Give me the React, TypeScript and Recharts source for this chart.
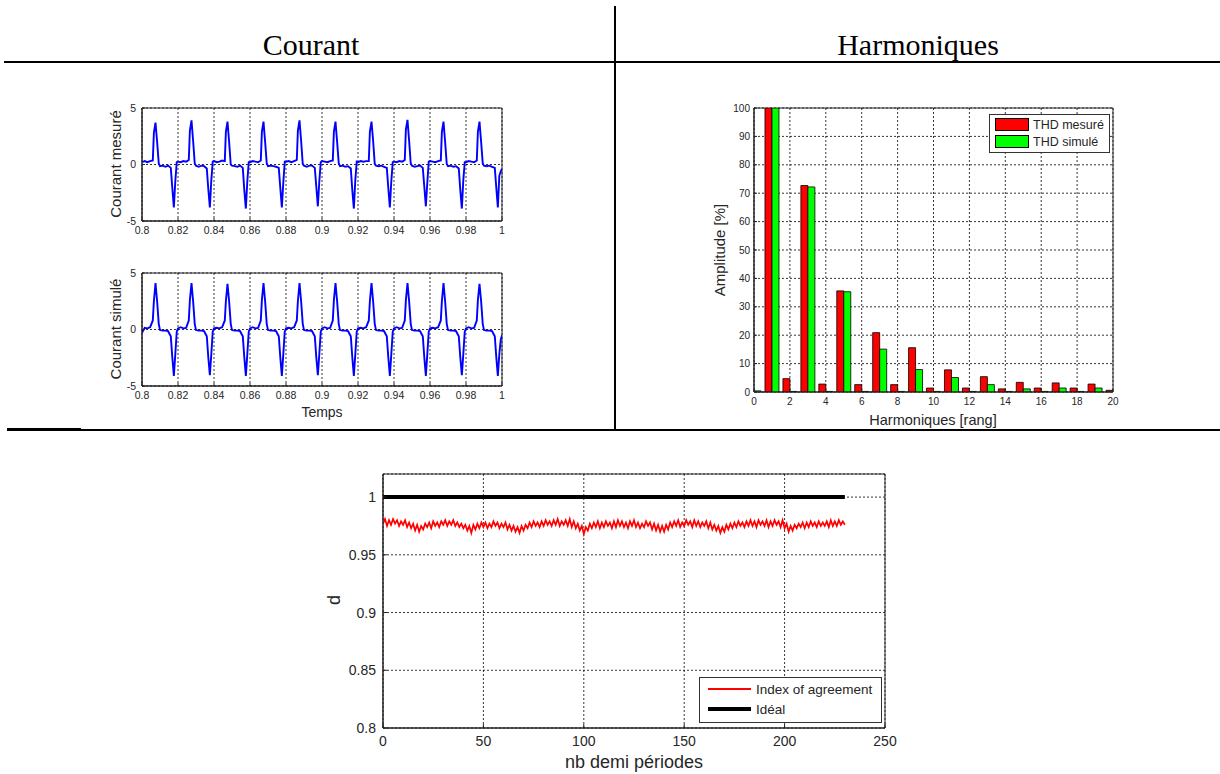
import React from 'react';
import { LineChart, Line, BarChart, Bar, XAxis, YAxis, CartesianGrid, ReferenceArea, Legend } from 'recharts';

// ---------- Courant (top-left) ----------
const timeTicks = [0.8, 0.82, 0.84, 0.86, 0.88, 0.9, 0.92, 0.94, 0.96, 0.98, 1];
const currentTicks = [-5, 0, 5];
const timeS = [
  0.8, 0.8015, 0.803, 0.8045, 0.806, 0.8066, 0.8075, 0.8084, 0.8093, 0.81, 0.8115, 0.813, 0.8145, 0.816, 0.8168, 0.8177, 0.8185, 0.8193,
  0.82, 0.8215, 0.823, 0.8245, 0.826, 0.8266, 0.8275, 0.8284, 0.8293, 0.83, 0.8315, 0.833, 0.8345, 0.836, 0.8368, 0.8377, 0.8385, 0.8393,
  0.84, 0.8415, 0.843, 0.8445, 0.846, 0.8466, 0.8475, 0.8484, 0.8493, 0.85, 0.8515, 0.853, 0.8545, 0.856, 0.8568, 0.8577, 0.8585, 0.8593,
  0.86, 0.8615, 0.863, 0.8645, 0.866, 0.8666, 0.8675, 0.8684, 0.8693, 0.87, 0.8715, 0.873, 0.8745, 0.876, 0.8768, 0.8777, 0.8785, 0.8793,
  0.88, 0.8815, 0.883, 0.8845, 0.886, 0.8866, 0.8875, 0.8884, 0.8893, 0.89, 0.8915, 0.893, 0.8945, 0.896, 0.8968, 0.8977, 0.8985, 0.8993,
  0.9, 0.9015, 0.903, 0.9045, 0.906, 0.9066, 0.9075, 0.9084, 0.9093, 0.91, 0.9115, 0.913, 0.9145, 0.916, 0.9168, 0.9177, 0.9185, 0.9193,
  0.92, 0.9215, 0.923, 0.9245, 0.926, 0.9266, 0.9275, 0.9284, 0.9293, 0.93, 0.9315, 0.933, 0.9345, 0.936, 0.9368, 0.9377, 0.9385, 0.9393,
  0.94, 0.9415, 0.943, 0.9445, 0.946, 0.9466, 0.9475, 0.9484, 0.9493, 0.95, 0.9515, 0.953, 0.9545, 0.956, 0.9568, 0.9577, 0.9585, 0.9593,
  0.96, 0.9615, 0.963, 0.9645, 0.966, 0.9666, 0.9675, 0.9684, 0.9693, 0.97, 0.9715, 0.973, 0.9745, 0.976, 0.9768, 0.9777, 0.9785, 0.9793,
  0.98, 0.9815, 0.983, 0.9845, 0.986, 0.9866, 0.9875, 0.9884, 0.9893, 0.99, 0.9915, 0.993, 0.9945, 0.996, 0.9968, 0.9977, 0.9985, 0.9993,
  1,
];
const courantMesure = [
  0.2, 0.3, 0.2, 0.3, 0.35, 2.8, 3.7, 2.0, 0.1, -0.15, -0.1, -0.2, -0.1, -0.3, -2.0, -3.8, -1.5, 0.2,
  0.25, 0.2, 0.3, 0.25, 0.4, 3.0, 3.9, 2.1, 0.1, -0.1, -0.2, -0.1, -0.15, -0.35, -2.1, -3.8, -1.4, 0.25,
  0.3, 0.2, 0.25, 0.35, 0.3, 2.9, 3.8, 2.0, 0.0, -0.1, -0.15, -0.2, -0.1, -0.3, -2.2, -3.9, -1.5, 0.2,
  0.2, 0.3, 0.25, 0.2, 0.35, 2.9, 3.8, 2.0, 0.1, -0.15, -0.1, -0.15, -0.2, -0.3, -2.0, -3.8, -1.6, 0.25,
  0.25, 0.3, 0.2, 0.3, 0.4, 3.0, 3.9, 2.1, 0.05, -0.1, -0.2, -0.1, -0.1, -0.3, -1.9, -3.7, -1.5, 0.2,
  0.3, 0.25, 0.2, 0.3, 0.35, 2.9, 3.8, 2.0, 0.1, -0.15, -0.1, -0.2, -0.15, -0.35, -2.2, -3.9, -1.4, 0.25,
  0.2, 0.3, 0.25, 0.3, 0.3, 2.9, 3.8, 2.1, 0.05, -0.1, -0.15, -0.1, -0.2, -0.3, -2.0, -3.8, -1.5, 0.2,
  0.25, 0.2, 0.3, 0.25, 0.4, 3.1, 3.95, 2.1, 0.1, -0.1, -0.2, -0.15, -0.1, -0.3, -1.9, -3.7, -1.6, 0.25,
  0.3, 0.25, 0.2, 0.3, 0.35, 2.9, 3.8, 2.0, 0.05, -0.15, -0.1, -0.2, -0.15, -0.35, -2.2, -3.9, -1.4, 0.2,
  0.2, 0.3, 0.25, 0.2, 0.35, 2.9, 3.8, 2.0, 0.1, -0.1, -0.15, -0.1, -0.2, -0.3, -2.0, -3.8, -1.0, -0.6,
  -0.4,
];
const courantSimule = [
  -0.3, 0.15, 0.1, 0.2, 0.8, 2.5, 4.1, 2.5, 0.5, -0.05, -0.1, -0.1, -0.15, -0.6, -2.4, -4.1, -2.2, -0.2,
  0.1, 0.2, 0.1, 0.15, 0.8, 2.6, 4.1, 2.5, 0.5, -0.05, -0.1, -0.1, -0.15, -0.6, -2.4, -4.05, -2.2, -0.2,
  0.1, 0.15, 0.1, 0.2, 0.8, 2.5, 4.05, 2.5, 0.5, -0.05, -0.1, -0.1, -0.15, -0.6, -2.4, -4.1, -2.2, -0.2,
  0.1, 0.2, 0.1, 0.15, 0.8, 2.6, 4.1, 2.5, 0.5, -0.05, -0.1, -0.1, -0.15, -0.6, -2.4, -4.1, -2.2, -0.2,
  0.1, 0.15, 0.1, 0.2, 0.8, 2.5, 4.1, 2.5, 0.5, -0.05, -0.1, -0.1, -0.15, -0.6, -2.4, -4.05, -2.2, -0.2,
  0.1, 0.2, 0.1, 0.15, 0.8, 2.6, 4.1, 2.5, 0.5, -0.05, -0.1, -0.1, -0.15, -0.6, -2.4, -4.1, -2.2, -0.2,
  0.1, 0.15, 0.1, 0.2, 0.8, 2.5, 4.1, 2.5, 0.5, -0.05, -0.1, -0.1, -0.15, -0.6, -2.4, -4.1, -2.2, -0.2,
  0.1, 0.2, 0.1, 0.15, 0.8, 2.6, 4.1, 2.5, 0.5, -0.05, -0.1, -0.1, -0.15, -0.6, -2.4, -4.1, -2.2, -0.2,
  0.1, 0.15, 0.1, 0.2, 0.8, 2.5, 4.1, 2.5, 0.5, -0.05, -0.1, -0.1, -0.15, -0.6, -2.4, -4.05, -2.2, -0.2,
  0.1, 0.2, 0.1, 0.15, 0.8, 2.6, 4.05, 2.5, 0.5, -0.05, -0.1, -0.1, -0.15, -0.6, -2.4, -4.1, -2.2, -0.9,
  -0.5,
];

// ---------- Harmoniques (top-right) ----------
const rangs = [0, 1, 2, 3, 4, 5, 6, 7, 8, 9, 10, 11, 12, 13, 14, 15, 16, 17, 18, 19, 20];
const thdMesure = [0.6, 100, 4.7, 72.7, 2.8, 35.6, 2.6, 20.9, 2.6, 15.6, 1.4, 7.8, 1.4, 5.4, 1.1, 3.4, 1.4, 3.2, 1.4, 2.8, 0.6];
const thdSimule = [0.4, 100, 0.2, 72.2, 0.2, 35.3, 0.2, 15.1, 0.2, 7.9, 0.2, 5.1, 0.2, 2.6, 0.2, 1.1, 0.2, 1.4, 0.2, 1.4, 0.2];
const rangTicks = [0, 2, 4, 6, 8, 10, 12, 14, 16, 18, 20];
const ampTicks = [0, 10, 20, 30, 40, 50, 60, 70, 80, 90, 100];

// ---------- Index of agreement (bottom) ----------
const indexAgreement = [
  0.977, 0.981, 0.975, 0.980, 0.976, 0.981, 0.977, 0.980, 0.975, 0.979,
  0.976, 0.980, 0.974, 0.978, 0.973, 0.977, 0.971, 0.976, 0.970, 0.975,
  0.972, 0.977, 0.974, 0.978, 0.973, 0.979, 0.975, 0.978, 0.974, 0.979,
  0.976, 0.980, 0.975, 0.979, 0.976, 0.980, 0.975, 0.978, 0.974, 0.977,
  0.973, 0.976, 0.971, 0.975, 0.969, 0.976, 0.972, 0.977, 0.973, 0.978,
  0.974, 0.978, 0.973, 0.977, 0.974, 0.979, 0.975, 0.978, 0.973, 0.977,
  0.974, 0.978, 0.972, 0.976, 0.971, 0.975, 0.970, 0.974, 0.969, 0.975,
  0.971, 0.976, 0.973, 0.978, 0.974, 0.979, 0.975, 0.978, 0.974, 0.979,
  0.975, 0.980, 0.976, 0.979, 0.975, 0.980, 0.976, 0.981, 0.975, 0.979,
  0.976, 0.980, 0.975, 0.981, 0.974, 0.979, 0.973, 0.977, 0.971, 0.975,
  0.968, 0.974, 0.971, 0.977, 0.973, 0.978, 0.974, 0.979, 0.973, 0.978,
  0.974, 0.979, 0.975, 0.978, 0.973, 0.979, 0.974, 0.980, 0.975, 0.979,
  0.974, 0.978, 0.973, 0.979, 0.975, 0.980, 0.974, 0.978, 0.973, 0.977,
  0.974, 0.979, 0.975, 0.978, 0.972, 0.977, 0.971, 0.976, 0.970, 0.975,
  0.970, 0.976, 0.972, 0.978, 0.974, 0.979, 0.975, 0.980, 0.974, 0.978,
  0.975, 0.980, 0.976, 0.979, 0.974, 0.980, 0.975, 0.979, 0.974, 0.978,
  0.975, 0.979, 0.973, 0.978, 0.972, 0.976, 0.971, 0.975, 0.969, 0.974,
  0.970, 0.976, 0.972, 0.977, 0.973, 0.978, 0.974, 0.979, 0.975, 0.978,
  0.974, 0.979, 0.975, 0.980, 0.975, 0.979, 0.974, 0.980, 0.976, 0.979,
  0.975, 0.980, 0.974, 0.979, 0.975, 0.980, 0.976, 0.979, 0.974, 0.980,
  0.973, 0.977, 0.970, 0.975, 0.971, 0.976, 0.973, 0.977, 0.974, 0.978,
  0.973, 0.978, 0.974, 0.979, 0.975, 0.978, 0.974, 0.979, 0.975, 0.978,
  0.975, 0.979, 0.974, 0.980, 0.975, 0.979, 0.975, 0.980, 0.976, 0.979,
  0.976,
];
const idealN = [0, 230];
const idealD = [1, 1];
const demiTicks = [0, 50, 100, 150, 200, 250];
const dTicks = [0.8, 0.85, 0.9, 0.95, 1];

// ---------- helpers ----------
const SANS = '"Liberation Sans", Arial, Helvetica, sans-serif';
const SERIF = '"Liberation Serif", "Times New Roman", serif';
const INK = '#262626';
const tickStyle = (size: number) => ({ fontSize: size, fill: INK, fontFamily: SANS });

const title = (x: number, y: number, text: string, size: number, rotate = false) => () => (
  <text
    x={x}
    y={y}
    textAnchor="middle"
    dominantBaseline="central"
    transform={rotate ? `rotate(-90 ${x} ${y})` : undefined}
    fontFamily={SANS}
    fontSize={size}
    fill={INK}
  >
    {text}
  </text>
);

const mesureData = timeS.map((t, i) => ({ t, v: courantMesure[i] }));
const simuleData = timeS.map((t, i) => ({ t, v: courantSimule[i] }));
const harmData = rangs.map((r, i) => ({ r, m: thdMesure[i], s: thdSimule[i] }));
const agreeData = indexAgreement.map((d, n) => ({ n, d }));
const idealData = idealN.map((n, i) => ({ n, d: idealD[i] }));

function CourantChart({ data, top, height, bottom, ylabel, xlabel }: any) {
  return (
    <div style={{ position: 'absolute', left: 80, top, width: 440, height }}>
      <LineChart width={440} height={height} data={data} margin={{ top: 13, right: 18, bottom, left: 0 }}>
        <CartesianGrid stroke="#000" strokeDasharray="2 2" strokeWidth={0.8} />
        <XAxis
          dataKey="t"
          type="number"
          domain={[0.8, 1]}
          ticks={timeTicks}
          interval={0}
          allowDataOverflow
          height={20}
          tickSize={-3}
          tickMargin={9}
          axisLine={{ stroke: '#222' }}
          tickLine={{ stroke: '#222' }}
          tick={tickStyle(10.5)}
          label={xlabel ? title(242, 152, xlabel, 14) : undefined}
        />
        <YAxis
          type="number"
          domain={[-5, 5]}
          ticks={currentTicks}
          interval={0}
          allowDataOverflow
          width={62}
          tickSize={-3}
          tickMargin={9}
          axisLine={{ stroke: '#222' }}
          tickLine={{ stroke: '#222' }}
          tick={tickStyle(10.5)}
          label={title(35, 69, ylabel, 15, true)}
        />
        <ReferenceArea x1={0.8} x2={1} y1={-5} y2={5} fill="none" stroke="#222" strokeWidth={1} ifOverflow="visible" />
        <Line type="linear" dataKey="v" stroke="#0000ff" strokeWidth={1.9} dot={false} activeDot={false} isAnimationActive={false} />
      </LineChart>
    </div>
  );
}

function HarmLegend() {
  const row = (color: string, label: string) => (
    <div style={{ display: 'flex', alignItems: 'center', height: 17 }}>
      <div style={{ width: 32, height: 11, background: color, border: '1px solid #000', marginLeft: 5, marginRight: 4 }} />
      <span style={{ fontFamily: SANS, fontSize: 12.5, color: INK }}>{label}</span>
    </div>
  );
  return (
    <div style={{ width: 119, height: 36, border: '1px solid #333', background: '#fff', paddingTop: 1, boxSizing: 'content-box' }}>
      {row('#ff0000', 'THD mesuré')}
      {row('#00ff00', 'THD simulé')}
    </div>
  );
}

function AgreeLegend() {
  const row = (h: number, label: string, color: string) => (
    <div style={{ display: 'flex', alignItems: 'center', height: 20 }}>
      <div style={{ width: 43, height: h, background: color, marginLeft: 8, marginRight: 5 }} />
      <span style={{ fontFamily: SANS, fontSize: 13.5, color: INK }}>{label}</span>
    </div>
  );
  return (
    <div style={{ width: 181, height: 43, border: '1px solid #333', background: '#fff', paddingTop: 1, boxSizing: 'content-box' }}>
      {row(2, 'Index of agreement', '#ff0000')}
      {row(4, 'Idéal', '#000')}
    </div>
  );
}

const rule = (left: number, top: number, width: number, height: number) => (
  <div style={{ position: 'absolute', left, top, width, height, background: '#000' }} />
);

export default function App() {
  return (
    <div style={{ position: 'absolute', left: 0, top: 0, width: 1220, height: 774, background: '#fff', overflow: 'hidden' }}>
      <CourantChart data={mesureData} top={95} height={150} bottom={4} ylabel="Courant mesuré" />
      <CourantChart data={simuleData} top={260} height={165} bottom={19} ylabel="Courant simulé" xlabel="Temps" />

      <div style={{ position: 'absolute', left: 690, top: 95, width: 440, height: 340 }}>
        <BarChart width={440} height={340} data={harmData} margin={{ top: 13, right: 17, bottom: 23, left: 0 }} barGap={0} barSize={7}>
          <CartesianGrid stroke="#000" strokeDasharray="2 2" strokeWidth={0.8} />
          <XAxis
            dataKey="r"
            type="number"
            domain={[0, 20]}
            ticks={rangTicks}
            interval={0}
            allowDataOverflow
            height={20}
            tickSize={-3}
            tickMargin={9}
            axisLine={{ stroke: '#222' }}
            tickLine={{ stroke: '#222' }}
            tick={tickStyle(10)}
            label={title(243, 325, 'Harmoniques [rang]', 14.5)}
          />
          <YAxis
            type="number"
            domain={[0, 100]}
            ticks={ampTicks}
            interval={0}
            allowDataOverflow
            width={64}
            tickSize={-3}
            tickMargin={7}
            axisLine={{ stroke: '#222' }}
            tickLine={{ stroke: '#222' }}
            tick={tickStyle(10)}
            label={title(29, 155, 'Amplitude [%]', 15, true)}
          />
          <Bar dataKey="m" name="THD mesuré" fill="#ff0000" stroke="#000" strokeWidth={0.8} isAnimationActive={false} />
          <Bar dataKey="s" name="THD simulé" fill="#00ff00" stroke="#000" strokeWidth={0.8} isAnimationActive={false} />
          <ReferenceArea x1={0} x2={20} y1={0} y2={100} fill="none" stroke="#222" strokeWidth={1} ifOverflow="visible" />
          <Legend
            layout="vertical"
            align="center"
            verticalAlign="middle"
            wrapperStyle={{ left: 299, top: 19, width: 121, height: 38 }}
            content={() => <HarmLegend />}
          />
        </BarChart>
      </div>

      <div style={{ position: 'absolute', left: 320, top: 460, width: 580, height: 314 }}>
        <LineChart width={580} height={314} margin={{ top: 14, right: 15, bottom: 16, left: 0 }}>
          <CartesianGrid stroke="#000" strokeDasharray="2 2" strokeWidth={0.8} />
          <XAxis
            dataKey="n"
            type="number"
            domain={[0, 250]}
            ticks={demiTicks}
            interval={0}
            allowDataOverflow
            height={30}
            tickSize={-4}
            tickMargin={12}
            axisLine={{ stroke: '#222' }}
            tickLine={{ stroke: '#222' }}
            tick={tickStyle(14)}
            label={title(314, 302, 'nb demi périodes', 18)}
          />
          <YAxis
            type="number"
            domain={[0.8, 1.02]}
            ticks={dTicks}
            interval={0}
            allowDataOverflow
            width={63}
            tickSize={-4}
            tickMargin={11}
            axisLine={{ stroke: '#222' }}
            tickLine={{ stroke: '#222' }}
            tick={tickStyle(14)}
            label={title(14, 140, 'd', 18, true)}
          />
          <ReferenceArea x1={0} x2={250} y1={0.8} y2={1.02} fill="none" stroke="#222" strokeWidth={1} ifOverflow="visible" />
          <Line data={agreeData} type="linear" dataKey="d" name="Index of agreement" stroke="#ff0000" strokeWidth={1.7} dot={false} activeDot={false} isAnimationActive={false} />
          <Line data={idealData} type="linear" dataKey="d" name="Idéal" stroke="#000" strokeWidth={4} dot={false} activeDot={false} isAnimationActive={false} />
          <Legend
            layout="vertical"
            align="center"
            verticalAlign="middle"
            wrapperStyle={{ left: 379, top: 217, width: 183, height: 45 }}
            content={() => <AgreeLegend />}
          />
        </LineChart>
      </div>

      {rule(4, 61, 1216, 2)}
      {rule(614, 6, 2, 424)}
      {rule(7, 428, 74, 3)}
      {rule(81, 429, 1139, 2)}

      <svg width={1220} height={80} style={{ position: 'absolute', left: 0, top: 0, pointerEvents: 'none' }}>
        <text x={311} y={55} textAnchor="middle" fontFamily={SERIF} fontSize={30} fill="#000">
          Courant
        </text>
        <text x={918} y={55} textAnchor="middle" fontFamily={SERIF} fontSize={30} fill="#000">
          Harmoniques
        </text>
      </svg>
    </div>
  );
}
